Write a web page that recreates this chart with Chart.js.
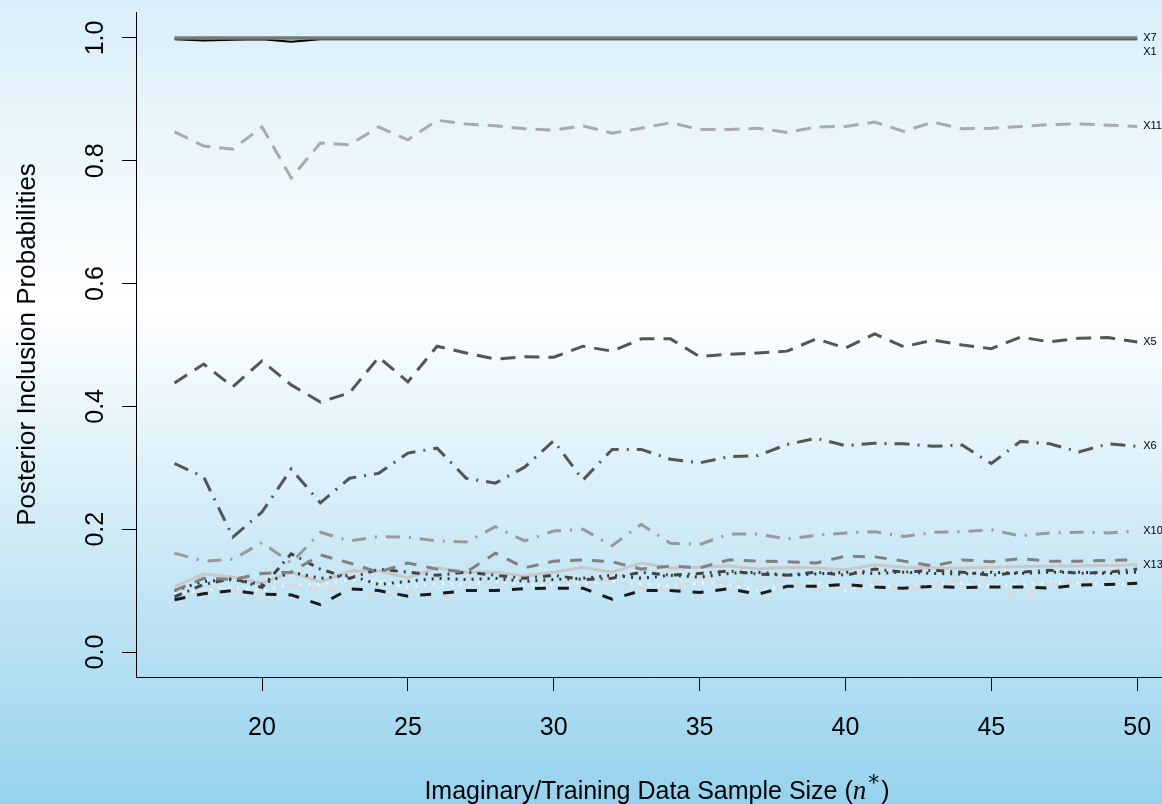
<!DOCTYPE html>
<html><head><meta charset="utf-8">
<script src="https://cdn.jsdelivr.net/npm/chart.js@4.4.0/dist/chart.umd.min.js"></script>
<style>html,body{margin:0;padding:0;overflow:hidden;background:#fff}#wrap{width:1162px;height:804px;position:relative}</style>
</head><body><div id="wrap"><canvas id="c" width="1162" height="804"></canvas></div>
<script>
const sampleSizes = [17,18,19,20,21,22,23,24,25,26,27,28,29,30,31,32,33,34,35,36,37,38,39,40,41,42,43,44,45,46,47,48,49,50];
const xTickValues = [20,25,30,35,40,45,50];
const yTickValues = [0,0.2,0.4,0.6,0.8,1.0];

const X7 = [1,1,1,1,1,1,1,1,1,1,1,1,1,1,1,1,1,1,1,1,1,1,1,1,1,1,1,1,1,1,1,1,1,1];
const X1 = [0.998,0.996,0.997,0.998,0.994,0.998,0.998,0.998,0.998,0.998,0.998,0.998,0.998,0.998,0.998,0.998,0.998,0.998,0.998,0.998,0.998,0.998,0.998,0.998,0.998,0.998,0.998,0.998,0.998,0.998,0.998,0.998,0.998,0.998];
const X11 = [0.847,0.824,0.819,0.855,0.772,0.829,0.826,0.855,0.834,0.866,0.860,0.857,0.852,0.850,0.857,0.845,0.853,0.862,0.851,0.851,0.853,0.846,0.855,0.856,0.863,0.848,0.863,0.852,0.853,0.856,0.859,0.860,0.858,0.856];
const X5 = [0.438,0.469,0.432,0.474,0.435,0.407,0.422,0.480,0.440,0.498,0.487,0.477,0.481,0.480,0.498,0.490,0.510,0.510,0.481,0.485,0.487,0.490,0.510,0.495,0.518,0.497,0.508,0.500,0.494,0.513,0.505,0.511,0.512,0.505];
const X6 = [0.307,0.285,0.187,0.228,0.298,0.243,0.283,0.291,0.324,0.332,0.283,0.275,0.301,0.344,0.280,0.330,0.330,0.314,0.308,0.318,0.320,0.338,0.348,0.336,0.340,0.339,0.335,0.337,0.307,0.343,0.339,0.326,0.339,0.335];
const X10 = [0.161,0.148,0.151,0.178,0.145,0.195,0.181,0.188,0.187,0.181,0.179,0.204,0.181,0.197,0.200,0.173,0.208,0.177,0.175,0.192,0.192,0.184,0.190,0.194,0.196,0.188,0.195,0.196,0.199,0.189,0.194,0.195,0.194,0.197];
const X13 = [0.107,0.127,0.122,0.112,0.130,0.114,0.132,0.132,0.121,0.137,0.130,0.130,0.124,0.130,0.138,0.130,0.145,0.137,0.138,0.140,0.135,0.138,0.137,0.134,0.142,0.138,0.137,0.137,0.138,0.139,0.140,0.140,0.141,0.142];
const X12 = [0.100,0.120,0.118,0.128,0.130,0.158,0.145,0.130,0.145,0.135,0.130,0.161,0.137,0.148,0.150,0.147,0.135,0.140,0.137,0.150,0.148,0.147,0.145,0.156,0.155,0.148,0.140,0.150,0.147,0.152,0.148,0.148,0.149,0.150];
const X2 = [0.085,0.095,0.100,0.094,0.093,0.077,0.103,0.100,0.091,0.095,0.100,0.100,0.103,0.104,0.104,0.086,0.100,0.100,0.097,0.103,0.094,0.107,0.107,0.110,0.106,0.104,0.107,0.105,0.106,0.106,0.104,0.109,0.110,0.112];
const X3 = [0.100,0.115,0.118,0.110,0.130,0.120,0.125,0.110,0.115,0.120,0.118,0.120,0.115,0.118,0.120,0.125,0.120,0.125,0.122,0.128,0.130,0.125,0.127,0.130,0.128,0.130,0.128,0.127,0.130,0.128,0.130,0.130,0.128,0.130];
const X4 = [0.090,0.110,0.120,0.105,0.160,0.135,0.120,0.135,0.130,0.125,0.130,0.125,0.120,0.125,0.118,0.120,0.130,0.125,0.128,0.132,0.127,0.125,0.130,0.125,0.135,0.130,0.133,0.130,0.125,0.130,0.133,0.128,0.130,0.135];
const X8 = [0.090,0.100,0.100,0.085,0.110,0.100,0.105,0.090,0.100,0.085,0.110,0.115,0.120,0.110,0.118,0.115,0.105,0.100,0.120,0.110,0.115,0.118,0.100,0.105,0.115,0.100,0.110,0.118,0.105,0.090,0.110,0.115,0.112,0.115];
const X9 = [0.095,0.100,0.105,0.100,0.110,0.110,0.118,0.115,0.105,0.112,0.110,0.115,0.110,0.110,0.112,0.115,0.110,0.108,0.112,0.110,0.100,0.108,0.112,0.100,0.110,0.105,0.110,0.112,0.108,0.110,0.113,0.112,0.110,0.112];

const labelledSeries = ['X7','X1','X11','X5','X6','X10','X13'];

function pts(arr){ return arr.map((v,i)=>({x:sampleSizes[i], y:v})); }
function ds(name, arr, color, width, dash){
  return {label:name, data:pts(arr), borderColor:color, borderWidth:width, borderDash:dash,
    pointRadius:0, pointHoverRadius:0, tension:0, fill:false, borderCapStyle:'butt'};
}

const datasets = [
  ds('X7', X7, '#777777', 3.5, []),
  ds('X1', X1, '#000000', 2, []),
  ds('X11', X11, '#aaaaaa', 3, [15,9]),
  ds('X5', X5, '#555555', 3, [15,9]),
  ds('X6', X6, '#555555', 3, [15,8,2,8]),
  ds('X10', X10, '#999999', 3, [14,9,2,9]),
  ds('X12', X12, '#808080', 3, [12,10]),
  ds('X4', X4, '#444444', 3, [8,6,2,6]),
  ds('X3', X3, '#333333', 3, [2,6]),
  ds('X13', X13, '#c8c8c8', 3, []),
  ds('X2', X2, '#1a1a1a', 3, [11,12]),
  ds('X8', X8, '#dadada', 3, [10,10]),
  ds('X9', X9, '#f6f6f6', 3, [2,7])
];

const bgPlugin = {
  id:'bg',
  beforeDraw(chart){
    const ctx = chart.ctx, h = chart.height, w = chart.width;
    const g = ctx.createLinearGradient(0,0,0,h);
    g.addColorStop(0,'#d8eef8');
    g.addColorStop(0.38,'#ffffff');
    g.addColorStop(1,'#96d2ed');
    ctx.save(); ctx.fillStyle = g; ctx.fillRect(0,0,w,h); ctx.restore();
  }
};

const textPlugin = {
  id:'texts',
  afterDraw(chart){
    const ctx = chart.ctx, ys = chart.scales.y, xs = chart.scales.x, ca = chart.chartArea;
    ctx.save();
    ctx.fillStyle = '#000';
    ctx.font = '25px "Liberation Sans", Arial, sans-serif';
    ctx.textAlign = 'center'; ctx.textBaseline = 'middle';
    // x tick labels
    xTickValues.forEach(v=>{
      ctx.fillText(String(v), xs.getPixelForValue(v), 728);
    });
    // y tick labels, rotated
    yTickValues.forEach(v=>{
      const y = ys.getPixelForValue(v);
      ctx.save(); ctx.translate(96, y); ctx.rotate(-Math.PI/2);
      ctx.fillText(v.toFixed(1), 0, 0); ctx.restore();
    });
    // y title
    ctx.font = '26px "Liberation Sans", Arial, sans-serif';
    ctx.save(); ctx.translate(28, (ca.top+ca.bottom)/2); ctx.rotate(-Math.PI/2);
    ctx.fillText('Posterior Inclusion Probabilities', 0, 0); ctx.restore();
    // x title with italic n*
    const partA = 'Imaginary/Training Data Sample Size (';
    const partN = 'n';
    const partS = '*';
    const partB = ')';
    const fMain = '25px "Liberation Sans", Arial, sans-serif';
    const fN = 'italic 27px "Liberation Serif", "DejaVu Serif", serif';
    const fS = '22px "DejaVu Sans", sans-serif';
    ctx.font = fMain; const wA = ctx.measureText(partA).width, wB = ctx.measureText(partB).width;
    ctx.font = fN; const wN = ctx.measureText(partN).width + 2;
    ctx.font = fS; const wS = ctx.measureText(partS).width + 2;
    let x = 657 - (wA+wN+wS+wB)/2; const base = 799;
    ctx.textAlign = 'left'; ctx.textBaseline = 'alphabetic';
    ctx.font = fMain; ctx.fillText(partA, x, base); x += wA;
    ctx.font = fN; ctx.fillText(partN, x, base); x += wN;
    ctx.font = fS; ctx.fillText(partS, x, base-9); x += wS;
    ctx.font = fMain; ctx.fillText(partB, x, base);
    // series labels at right end
    ctx.font = '11px "Liberation Sans", Arial, sans-serif';
    ctx.textBaseline = 'middle';
    let prevY = -100;
    labelledSeries.forEach(name=>{
      const d = chart.data.datasets.find(s=>s.label===name);
      const last = d.data[d.data.length-1];
      let y = ys.getPixelForValue(last.y);
      if (y - prevY < 13) y = prevY + 14;
      ctx.fillText(name, xs.getPixelForValue(last.x) + 6, y);
      prevY = y;
    });
    ctx.restore();
  }
};

new Chart(document.getElementById('c'), {
  type:'line',
  data:{datasets},
  options:{
    responsive:false, animation:false, devicePixelRatio:1,
    layout:{padding:{top:12,left:0,right:0,bottom:0}},
    plugins:{legend:{display:false}, tooltip:{enabled:false}},
    scales:{
      x:{type:'linear', min:15.68, max:50.85,
        afterBuildTicks:s=>{ s.ticks = xTickValues.map(v=>({value:v})); },
        afterFit:s=>{ s.height = 127; s.paddingLeft = 0; s.paddingRight = 0; },
        grid:{display:true, drawOnChartArea:false, drawTicks:true, tickLength:14, color:'#000', lineWidth:1},
        border:{display:true, color:'#000', width:1},
        ticks:{callback:()=>'', padding:0, maxRotation:0, minRotation:0, autoSkip:false}
      },
      y:{type:'linear', min:-0.0407, max:1.0423,
        afterBuildTicks:s=>{ s.ticks = yTickValues.map(v=>({value:v})); },
        afterFit:s=>{ s.width = 136; s.paddingTop = 0; s.paddingBottom = 0; },
        grid:{display:true, drawOnChartArea:false, drawTicks:true, tickLength:14, color:'#000', lineWidth:1},
        border:{display:true, color:'#000', width:1},
        ticks:{callback:()=>'', padding:0}
      }
    }
  },
  plugins:[bgPlugin, textPlugin]
});
</script></body></html>
